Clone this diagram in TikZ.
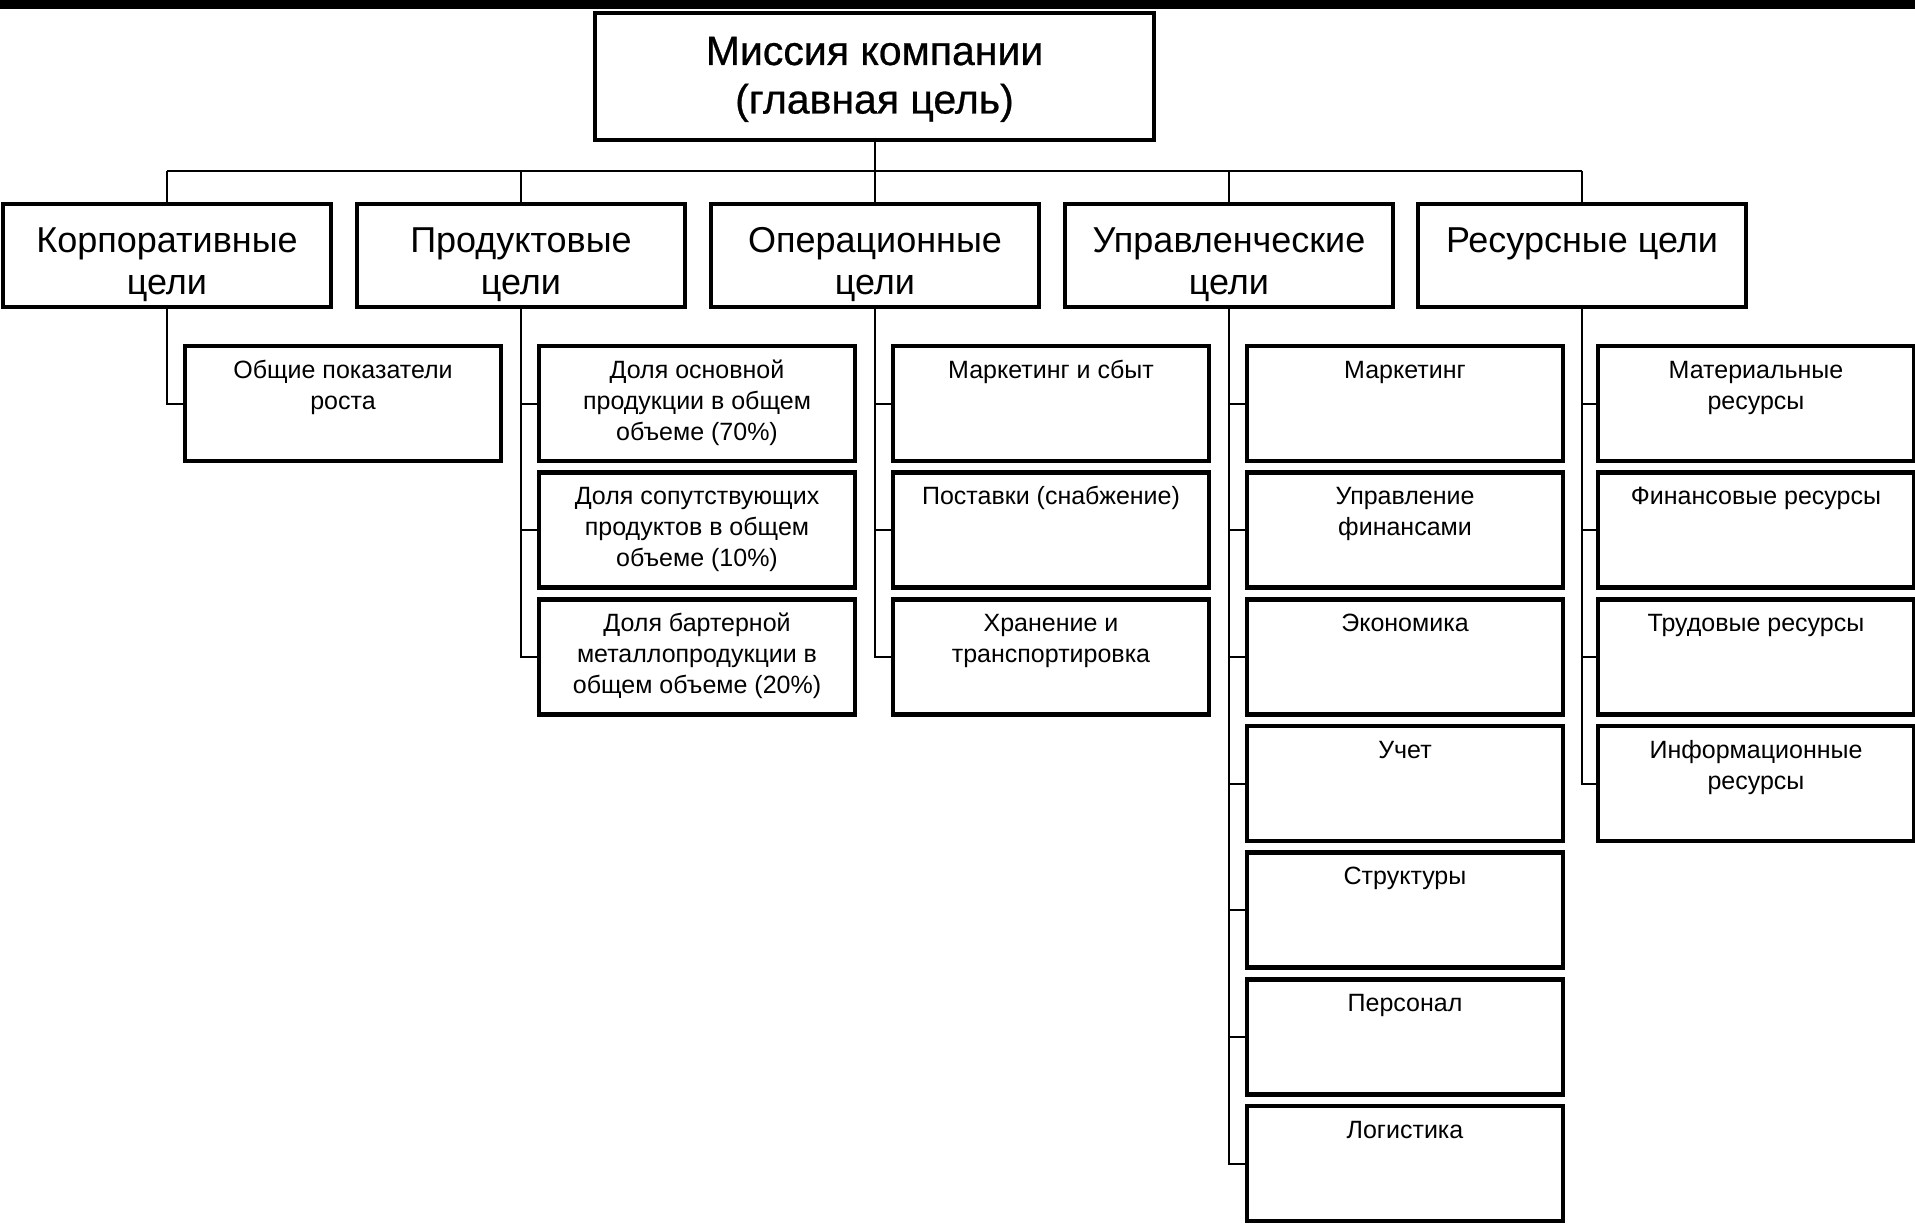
\documentclass[tikz,border=0pt]{standalone}
\usepackage{fontspec}
\setmainfont{Liberation Sans}
\newfontfamily\topfont[FakeBold=0.6]{Liberation Sans}
\newcommand\toptxt[1]{\parbox[c][127pt][t]{559pt}{\centering\topfont\fontsize{41}{48.5}\selectfont\rule{0pt}{52pt}#1}}
\newcommand\midtxt[1]{\parbox[c][103pt][t]{328pt}{\centering\fontsize{36}{41.5}\selectfont\rule{0pt}{49pt}#1}}
\newcommand\leaftxt[1]{\parbox[c][115pt][t]{316pt}{\centering\fontsize{25}{31}\selectfont\rule{0pt}{32pt}#1}}
\tikzset{
  topbox/.style={draw, line width=4pt, inner sep=0pt},
  midbox/.style={draw, line width=4pt, inner sep=0pt},
  leafbox/.style={draw, line width=4.5pt, inner sep=0pt},
  conn/.style={line width=2pt},
}
\begin{document}
\begin{tikzpicture}[x=1pt,y=-1pt]
\useasboundingbox (0,0) rectangle (1915,1225);
\fill[white] (0,0) rectangle (1915,1225);
\fill[black] (0,0) rectangle (1915,9);

\node[topbox] (top) at (874.5,76.5) {\toptxt{Миссия компании\\(главная цель)}};

\node[midbox] (m1) at (167,255.5)  {\midtxt{Корпоративные\\цели}};
\node[midbox] (m2) at (521,255.5)  {\midtxt{Продуктовые\\цели}};
\node[midbox] (m3) at (875,255.5)  {\midtxt{Операционные\\цели}};
\node[midbox] (m4) at (1229,255.5) {\midtxt{Управленческие\\цели}};
\node[midbox] (m5) at (1582,255.5) {\midtxt{Ресурсные цели}};

% column 1
\node[leafbox] (a1) at (343,403.5) {\leaftxt{Общие показатели\\роста}};
% column 2
\node[leafbox] (b1) at (697,403.5) {\leaftxt{Доля основной\\продукции в общем\\объеме (70\%)}};
\node[leafbox] (b2) at (697,530.2) {\leaftxt{Доля сопутствующих\\продуктов в общем\\объеме (10\%)}};
\node[leafbox] (b3) at (697,656.8) {\leaftxt{Доля бартерной\\металлопродукции в\\общем объеме (20\%)}};
% column 3
\node[leafbox] (c1) at (1051,403.5) {\leaftxt{Маркетинг и сбыт}};
\node[leafbox] (c2) at (1051,530.2) {\leaftxt{Поставки (снабжение)}};
\node[leafbox] (c3) at (1051,656.8) {\leaftxt{Хранение и\\транспортировка}};
% column 4
\node[leafbox] (d1) at (1405,403.5)  {\leaftxt{Маркетинг}};
\node[leafbox] (d2) at (1405,530.2)  {\leaftxt{Управление\\финансами}};
\node[leafbox] (d3) at (1405,656.8)  {\leaftxt{Экономика}};
\node[leafbox] (d4) at (1405,783.5)  {\leaftxt{Учет}};
\node[leafbox] (d5) at (1405,910.2)  {\leaftxt{Структуры}};
\node[leafbox] (d6) at (1405,1036.8) {\leaftxt{Персонал}};
\node[leafbox] (d7) at (1405,1163.5) {\leaftxt{Логистика}};
% column 5
\node[leafbox] (e1) at (1756,403.5) {\leaftxt{Материальные\\ресурсы}};
\node[leafbox] (e2) at (1756,530.2) {\leaftxt{Финансовые ресурсы}};
\node[leafbox] (e3) at (1756,656.8) {\leaftxt{Трудовые ресурсы}};
\node[leafbox] (e4) at (1756,783.5) {\leaftxt{Информационные\\ресурсы}};

% bus
\coordinate (busL) at (167,171);
\coordinate (busR) at (1582,171);
\draw[conn] (busL) -- (busR);
\draw[conn] (top.south) -- (top.south |- busL);
\foreach \m in {m1,m2,m3,m4,m5}
  \draw[conn] (\m.north) -- (\m.north |- busL);

% stems
\draw[conn] (m1.south) |- (a1.west);
\draw[conn] (m2.south) |- (b3.west);
\foreach \n in {b1,b2} \draw[conn] (\n.west) -- (\n.west -| m2.south);
\draw[conn] (m3.south) |- (c3.west);
\foreach \n in {c1,c2} \draw[conn] (\n.west) -- (\n.west -| m3.south);
\draw[conn] (m4.south) |- (d7.west);
\foreach \n in {d1,d2,d3,d4,d5,d6} \draw[conn] (\n.west) -- (\n.west -| m4.south);
\draw[conn] (m5.south) |- (e4.west);
\foreach \n in {e1,e2,e3} \draw[conn] (\n.west) -- (\n.west -| m5.south);
\end{tikzpicture}
\end{document}
